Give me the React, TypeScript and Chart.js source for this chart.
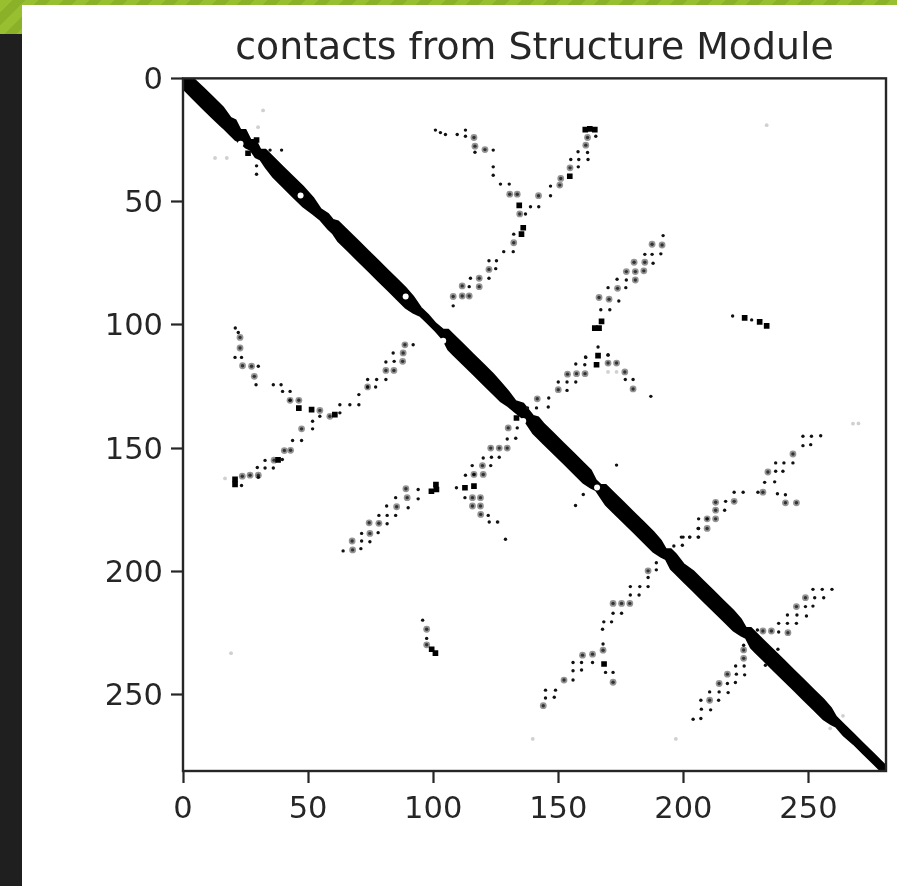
import React, { useEffect, useRef } from "react";
import { Chart, registerables } from "chart.js";

Chart.register(...registerables);

const chartTitle = "contacts from Structure Module";
const axisMax = 281;
const tickValues = [0, 50, 100, 150, 200, 250];

const diagonalX = [0,4,8,12,16,19,21,23,25,27,29,31,33,36,40,44,48,52,55,58,60,62,66,70,74,78,82,86,89,92,95,98,101,104,106,108,112,116,120,124,127,130,133,136,138,140,142,144,148,152,156,160,163,165,167,169,172,176,180,184,188,191,193,195,197,200,204,208,212,216,220,223,225,227,229,232,236,240,244,248,252,256,259,261,264,268,272,276,281];
const diagonalUpper = [0,0,3.8,7.8,11.8,16,17,21,21,25,25,29,29,32,36,40,44,48.5,53,55,57.5,58,62,66,70,74,78,82,85,88.5,93,96,99.5,102,102,104,108,112,116,120,123.5,127,131,132,134.5,137,137.5,140,144,148,152,156,159,163,165,165,168,172,176,180,184,187.5,191,191,193,197,200,204,208,212,216,219.5,223,223,225,228,232,236,240,244,248,252,255.5,259,262,266,270,274,279];
const diagonalLower = [4,8.2,12.2,16.2,20,23,25,26,28,29,32,33,36,40,44,48,52,55,57.5,61,63,66,70,74,78,82,86,90,93,95,96.5,99.5,102.5,106,110,112,116,120,124,128,131,133,135.5,138,141,144,146,148,152,156,160,164,166,167,170,173,176,180,184,188,192,194,195,199,201,204,208,212,216,220,224,226,227,231,233,236,240,244,248,252,256,260,262,263,266.5,270,274,278,283];

const holes = [[47,47.5],[89,88.5],[104,106.5],[165.5,166],[23,26.5],[136,139]];

const blots = [[134.4,51.5],[136,60.6],[135.3,63.2],[162.6,20.5],[164.6,20.8],[160.8,20.8],[154.6,39.7],[167.3,98.6],[166.3,101.3],[164.6,101.3],[165.9,112.5],[165.3,116.2],[51.4,134.4],[60.7,136.4],[20.8,162.7],[20.8,164.7],[99.3,167.5],[101.3,166.8],[101.1,164.8],[112.7,166.1],[116.3,165.4],[133.3,137.8],[168.3,237.6],[46.3,133.8],[38,154.8],[224.5,97.2],[230.5,98.8],[233.3,100.4],[100.9,233.2],[99.4,231.6],[22.8,22.3],[22.8,25],[26,30.4],[29.4,25],[33.5,32]];

const dots = [[100.9,21],[102.9,22],[104.9,22.8],[109.6,22.8],[112.9,21],[112.9,23.5],[116.7,30],[124,29.1],[124,35.9],[124,39.3],[126.9,42.9],[130.4,42.9],[136.9,55],[132.2,63.2],[132,70.3],[128.2,70.3],[125.3,74],[122.3,74],[125,77.2],[122.3,81.1],[114.9,81.1],[114.4,84.5],[108,92.3],
[165,23.5],[157.9,29.8],[161.7,30.1],[155,32.9],[158.2,32.9],[161.9,32.9],[158,35.9],[146.9,43.7],[146.9,47.6],[142.2,52.1],[138.9,52.1],
[191.9,63.8],[191,71.2],[187.9,75],[184.6,71.4],[187.5,71.4],[177.2,81.8],[173.5,81.5],[169.9,84.9],[177,84.9],[174.2,90.3],[167,93.9],[170.6,93.9],[165.9,109],[160.9,113],[169.9,112.3],
[22.1,103.1],[20.9,101.3],[20.8,113.2],[23.4,113.2],[30.1,116.8],[29.2,124.3],[39.2,124.3],[36.1,124.3],[42.8,127],[39.8,127],[42.8,130.6],[54.7,137.1],[51.8,139.1],[51.8,142.2],[43.8,146.9],[47.4,146.9],[39.7,154.6],[32.8,155],[32.8,158.1],[29.7,157.9],[30.1,161.8],[23.4,165.2],[36.1,158.1],
[62.7,135.7],[62.7,132.4],[66.7,132.4],[70.3,132.4],[70.3,128.3],[73.8,125.2],[77,125.2],[73.8,122.2],[77.4,122.2],[81.1,122.2],[81.1,115.1],[84.4,114.8],[84,111.4],[92,108.1],
[64,191.7],[71.1,190.8],[71.4,187.7],[74.7,188],[71.4,184.6],[78,184.3],[81.6,180.7],[85,177.3],[81.6,177.3],[78.3,177.3],[81.4,173.5],[90,174.2],[94,170.6],[94,166.8],[85,170.1],
[109.3,166.1],[112.7,170.1],[122,177.3],[122.4,180],[125.7,180],[128.9,187],
[115.6,157.1],[123,157.1],[116.3,160.7],[112.9,161],[126.4,153.7],[123.3,153.7],[120,154],[133,146],[129.6,146.3],[133.6,141.8],
[137.7,133.7],[141.3,133.7],[146,133.3],[146.2,129.7],[150,123.2],[153.5,123.2],[157,123.2],[153.5,126.6],[160.6,116.2],[157,115.9],[161,113.2],[169.9,112.1],[176.8,122.2],[179.9,122.2],[187,129],[173.3,156.9],[160,168.8],[156.9,173.3],
[95.8,219.8],[97.4,227.2],[144.9,251.4],[148.4,251.1],[144.9,248.2],[148.9,248.2],[155.9,244.1],[155.9,240.3],[159.3,240],[159.3,237],[155.9,237],[163.7,237],[167.9,229.5],[168.9,241],[171.9,241],
[167.7,223.5],[168.2,220.5],[171.3,220.5],[171.9,217],[175.3,217],[178.8,209.6],[182.3,209.6],[178.8,206.2],[182.6,206.2],[185.9,206.2],[185.9,202.5],[189.2,199.4],[189.2,196.5],[196.2,189.7],[199.6,189.4],[199.9,186.1],[202.5,186.1],[205.9,186.1],[205.9,182.6],
[199.2,186.1],[202.6,186.1],[206.1,186.1],[206.1,182.6],[206.1,178.7],[209.5,178.7],[216.5,175.2],[216.9,171.6],[220.3,167.9],[223.9,167.9],[229.8,167.9],[237.6,168.5],[240.8,168.9],[236.5,163.7],[232.5,163.9],[236.9,159.4],[239.8,159.4],[236.9,156],[240.2,156],[243.8,156],[247.8,149],[250.9,148.6],[247.8,145.2],[251.2,145.2],[254.9,145],
[203.9,260],[207,259.7],[207.2,255.9],[210.9,256.2],[207,252.3],[214.1,252.3],[210.5,248.9],[214.3,248.9],[217.9,249.2],[220.8,245.1],[217.6,245.5],[221.2,241.7],[224.5,242],[220.9,238.4],[224.3,238.4],[224.1,230],
[229.6,223.8],[238.1,221.1],[238.1,224.6],[241.6,221.1],[245.2,221.1],[241.6,217.7],[245.4,217.7],[249.2,218.1],[251.8,214.1],[248.8,214.3],[252.5,210.7],[256.1,210.7],[255.5,207.3],[259.4,207.3],[251.8,207.3],[232.8,238.1],[237.8,231.6],
[29.4,35.5],[29.4,38.9],[34.8,29.1],[39.4,29.1],[219.7,96.4],[227.3,98]];

const smudges = [[116.3,24],[116.7,27.5],[120.7,28.9],[130.6,47],[133.6,47],[134.6,55],[132.2,66.7],[122.3,77.5],[118.4,81.1],[118.4,84.5],[111.6,84.2],[111.6,88.3],[114.4,88.3],[108,88.5],
[161.7,24],[161,27.1],[154.7,36.3],[151,40.6],[150.6,43.3],[142.1,47.6],
[187.5,67.3],[191.5,67.6],[180.3,74.6],[184.6,74.6],[177.2,78.4],[180.8,78.4],[184.2,78.1],[180.8,81.8],[173.7,85.2],[166.3,88.9],[170.3,89.6],
[22.8,105.1],[22.8,109.4],[23.8,116.6],[27.4,116.8],[28.5,120.9],[42.8,130.6],[46.3,130.6],[54.7,134.7],[47.4,142.2],[43,150.9],[40.5,151],[36.4,154.9],[26.8,161],[23.7,161.4],[30.1,161],
[58.7,137.1],[73.8,125.2],[81.1,118.5],[84.3,118.5],[87.8,114.8],[88,111.4],[88.7,108.1],
[67.8,191.3],[67.6,187.7],[74.7,184.6],[74.4,180.3],[78.3,180.5],[85.4,173.8],[89.6,170.1],[89.1,166.5],
[115.7,170.1],[118.9,170.1],[115.7,173.5],[118.9,173.5],[119,176.9],
[119.7,157.1],[116.3,160.7],[120,160.7],[123,150],[126.4,150],[129.6,150],[130,141.8],
[141.6,130],[150,126.3],[153.7,120],[157.3,119.8],[160.7,119.8],[169.9,115.5],[173.3,115.5],[176.6,119.1],[179.9,126],
[97.4,223.5],[97.4,229.8],[144,254.5],[152.3,244.1],[159.7,234],[163.7,233.6],[167.9,232],[171.9,245],
[171.9,213],[175.3,213],[178.6,213],[185.9,199.8],
[209.5,182.6],[209.5,178.7],[212.9,178.7],[212.9,175.2],[212.9,172],[220.3,171.6],[231.8,167.9],[240.8,172.2],[245.2,172.2],[233.8,159.7],[243.8,152.4],
[210.5,252.3],[214.3,245.5],[217.6,241.7],[224.1,235.3],[224.1,231.9],
[231.8,224.2],[235.2,224.2],[241.8,224.9],[245.2,214.3],[248.8,210.7]];

const faint = [[233.3,19],[19.2,233.2],[139.8,268],[197,268],[267.8,140.1],[32,13],[12.8,32.3],[17.5,32.3],[16.8,162.3],[30,19.8],[263.8,258.6],[258.7,263.7],[169.9,119.1],[173.3,119.1],[126,180],[270,140]];

const toPoints = (pairs: number[][]) => pairs.map(([x, y]) => ({ x, y }));
const upperEdge = diagonalX.map((x, i) => ({ x, y: diagonalUpper[i] }));
const lowerEdge = diagonalX.map((x, i) => ({ x, y: diagonalLower[i] }));

const INK = "#262626";

export default function App() {
  const ref = useRef<HTMLCanvasElement | null>(null);
  useEffect(() => {
    if (!ref.current) return;
    const frame = {
      id: "frame",
      afterDraw(c: any) {
        const a = c.chartArea;
        const g = c.ctx;
        g.save();
        g.strokeStyle = INK;
        g.lineWidth = 2.4;
        g.strokeRect(a.left, a.top, a.right - a.left, a.bottom - a.top);
        g.restore();
      },
    };
    const dotSet = (label: string, pairs: number[][], color: string, r: number, style = "circle") => ({
      label,
      data: toPoints(pairs),
      backgroundColor: color,
      borderWidth: 0,
      pointStyle: style,
      pointRadius: r,
      pointHoverRadius: r,
    });
    const scale = (reverse: boolean, size: number, isY: boolean, padding: number) => ({
      type: "linear" as const,
      min: 0,
      max: axisMax,
      reverse,
      afterBuildTicks(ax: any) {
        ax.ticks = tickValues.map((value) => ({ value }));
      },
      afterFit(ax: any) {
        if (isY) ax.width = size;
        else ax.height = size;
        if (isY && !ax.__shifted) {
          ax.__shifted = true;
          const compute = ax._computeLabelItems.bind(ax);
          ax._computeLabelItems = (area: any) =>
            compute(area).map((item: any) => ({ ...item, textOffset: item.textOffset + 2.5 }));
        }
      },
      grid: { display: true, drawOnChartArea: false, drawTicks: true, tickLength: 12, tickColor: INK, tickWidth: 2.2 },
      border: { display: false },
      ticks: {
        color: INK,
        font: { family: "DejaVu Sans", size: 30.5 },
        padding,
        maxRotation: 0,
        autoSkip: false,
      },
    });
    const chart = new Chart(ref.current, {
      type: "scatter",
      data: {
        datasets: [
          dotSet("holes", holes, "#ffffff", 3),
          dotSet("blots", blots, "#000000", 4, "rect"),
          dotSet("dots", dots, "#111111", 1.7),
          dotSet("smudge cores", smudges, "#333333", 1.7),
          dotSet("smudges", smudges, "#959595", 3.4),
          dotSet("faint", faint, "#d0d0d0", 1.9),
          {
            type: "line",
            label: "diagonal upper edge",
            data: upperEdge,
            borderColor: "#000000",
            borderWidth: 2,
            pointRadius: 0,
            backgroundColor: "#000000",
            fill: "+1",
            tension: 0,
          },
          {
            type: "line",
            label: "diagonal lower edge",
            data: lowerEdge,
            borderColor: "#000000",
            borderWidth: 2,
            pointRadius: 0,
            tension: 0,
          },
        ] as any,
      },
      options: {
        animation: false,
        responsive: false,
        layout: { padding: { left: 0, right: 11, top: 0, bottom: 0 } },
        plugins: {
          legend: { display: false },
          tooltip: { enabled: false },
          title: {
            display: true,
            text: chartTitle,
            color: INK,
            fullSize: false,
            font: { family: "DejaVu Sans", size: 37.8, weight: "normal" },
            padding: { top: 26, bottom: 7 },
          },
        },
        scales: {
          x: scale(false, 115, false, 9),
          y: scale(true, 183, true, 8),
        },
      } as any,
      plugins: [frame],
    });
    return () => chart.destroy();
  }, []);
  return (
    <div style={{ position: "fixed", left: 0, top: 0, width: 897, height: 886, overflow: "hidden", background: "#1f1f1f" }}>
      <div
        style={{
          position: "absolute",
          left: 0,
          top: 0,
          width: 897,
          height: 34,
          background: "repeating-linear-gradient(135deg, #97bf30 0px, #97bf30 9px, #8bb128 9px, #8bb128 18px)",
        }}
      />
      <div style={{ position: "absolute", left: 22, top: 5, width: 875, height: 881, background: "#ffffff" }} />
      <canvas
        ref={ref}
        width={897}
        height={886}
        style={{ position: "absolute", left: 0, top: 0, width: 897, height: 886, filter: "blur(0.7px)" }}
      />
    </div>
  );
}
